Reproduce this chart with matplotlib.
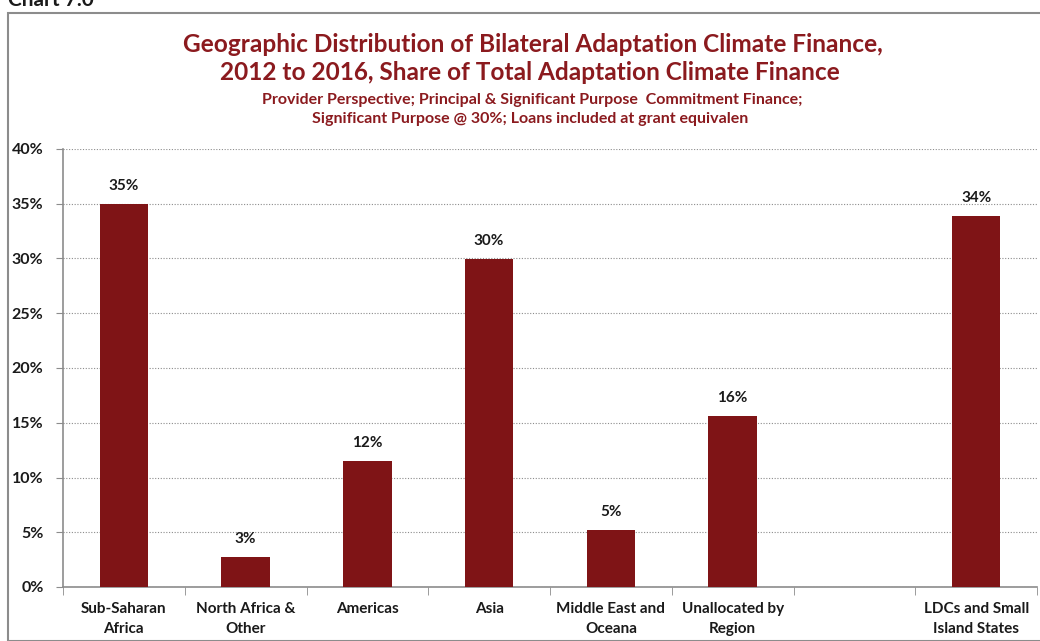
import matplotlib
matplotlib.use("Agg")
import matplotlib.pyplot as plt
from matplotlib.patches import Rectangle
import numpy as np

categories = ["Sub-Saharan\nAfrica", "North Africa &\nOther", "Americas", "Asia",
              "Middle East and\nOceana", "Unallocated by\nRegion", "", "LDCs and Small\nIsland States"]
values = [34.98, 2.75, 11.55, 29.95, 5.2, 15.65, None, 33.9]
labels = ["35%", "3%", "12%", "30%", "5%", "16%", "", "34%"]
yticks = [0, 5, 10, 15, 20, 25, 30, 35, 40]

plt.rcParams['font.family'] = ['Lato', 'DejaVu Sans']
bar_color = "#7F1416"
title_color = "#8B1A1E"
text_color = "#1a1a1a"

fig = plt.figure(figsize=(10.4, 6.41), dpi=100)
fig.patches.append(Rectangle((8/1040, 0), 1.0, 1 - 13/641, transform=fig.transFigure,
                             fill=False, edgecolor="#8c8c8c", linewidth=1.5))
fig.text(8/1040, 1 - 0/641, "Chart 7.0", fontsize=15, fontweight="bold", color=text_color,
         ha="left", va="center")

ax = fig.add_axes([63/1040, 1 - 587/641, (1037 - 63)/1040, (587 - 149)/641])
x = np.arange(len(categories))
for xi, v, lab in zip(x, values, labels):
    if v is None:
        continue
    ax.bar(xi, v, width=0.4, color=bar_color, zorder=3)
    ax.text(xi, v + 1.0, lab, ha="center", va="bottom", fontsize=11, fontweight="bold", color=text_color)

ax.set_xlim(-0.5, len(categories) - 0.5)
ax.set_ylim(0, 40)
ax.set_yticks(yticks)
ax.set_yticklabels([f"{t}%" for t in yticks], fontsize=11.5, fontweight="bold", color=text_color)
ax.set_xticks(x)
ax.set_xticklabels(categories, fontsize=11, fontweight="bold", color=text_color, linespacing=1.55)
ax.tick_params(axis="x", length=0, pad=11)
ax.set_xticks(np.arange(-0.5, len(categories), 1.0), minor=True)
ax.tick_params(axis="x", which="minor", length=6, color="#8c8c8c", direction="out")
ax.tick_params(axis="y", length=5, color="#8c8c8c", direction="out", pad=9)
ax.grid(axis="y", linestyle=(0, (1, 1.5)), color="#8c8c8c", linewidth=0.8, zorder=0)
for s in ["top", "right"]:
    ax.spines[s].set_visible(False)
for s in ["left", "bottom"]:
    ax.spines[s].set_color("#8c8c8c")
    ax.spines[s].set_linewidth(1.2)

fig.text(533/1040, 1 - 44/641, "Geographic Distribution of Bilateral Adaptation Climate Finance,",
         ha="center", va="center", fontsize=17.6, fontweight="bold", color=title_color)
fig.text(530/1040, 1 - 73/641, "2012 to 2016, Share of Total Adaptation Climate Finance",
         ha="center", va="center", fontsize=17.6, fontweight="bold", color=title_color)
fig.text(532/1040, 1 - 100/641, "Provider Perspective; Principal & Significant Purpose  Commitment Finance;",
         ha="center", va="center", fontsize=11.5, fontweight="bold", color=title_color)
fig.text(530/1040, 1 - 119/641, "Significant Purpose @ 30%; Loans included at grant equivalen",
         ha="center", va="center", fontsize=11.5, fontweight="bold", color=title_color)

fig.savefig("out.png", dpi=100)
